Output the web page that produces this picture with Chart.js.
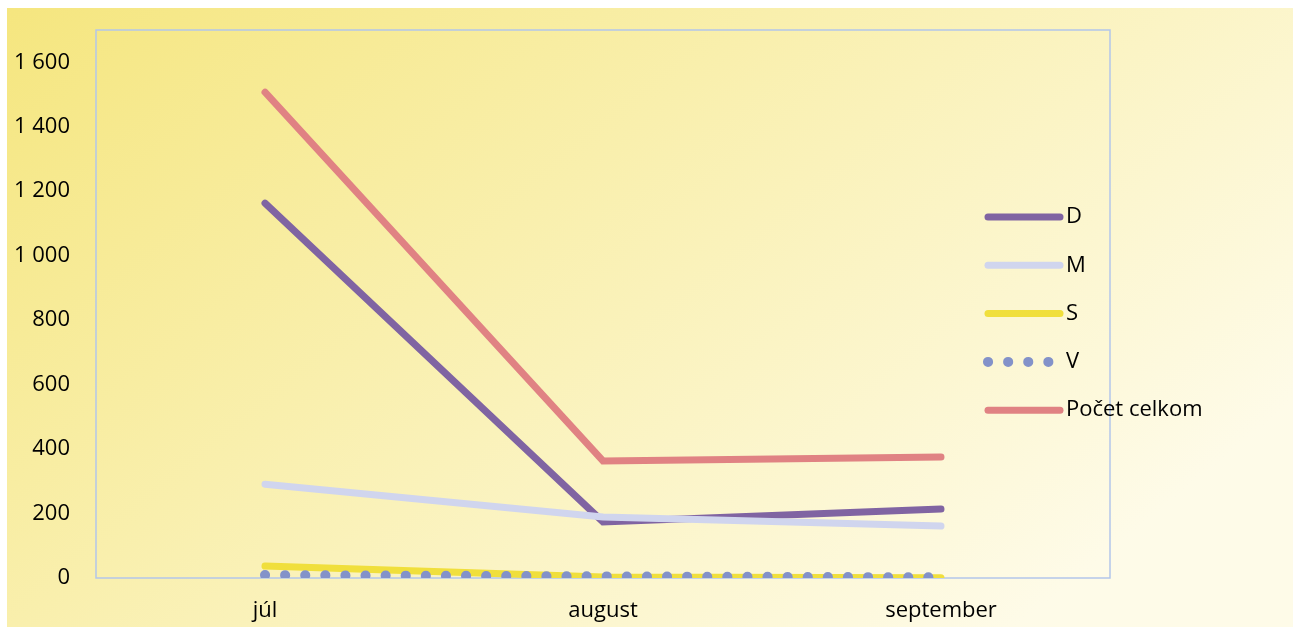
<!DOCTYPE html>
<html>
<head>
<meta charset="utf-8">
<script src="https://cdn.jsdelivr.net/npm/chart.js@4.4.1/dist/chart.umd.min.js"></script>
<style>
  html, body { margin: 0; padding: 0; background: #fff; }
  #wrap { position: absolute; left: 7px; top: 8px; width: 1286px; height: 619px; }
</style>
</head>
<body>
<div id="wrap"><canvas id="myChart"></canvas></div>
<script>
const months = ['júl', 'august', 'september']
const seriesNames = ['D', 'M', 'S', 'V', 'Počet celkom']
const valD = [1163, 174, 214]
const valM = [291, 189, 161]
const valS = [37, 3, 1]
const valV = [9, 5, 2]
const valTotal = [1507, 363, 375]
const yTicks = [0, 200, 400, 600, 800, 1000, 1200, 1400, 1600]

const colors = ['#8064a2', '#d0d5ee', '#f0df3c', '#8392c9', '#e08283']
const allValues = [valD, valM, valS, valV, valTotal]

// pozadie cez celu plochu
const bgPlugin = {
  id: 'bg',
  beforeDraw(chart) {
    const c = chart.ctx
    const g = c.createLinearGradient(0, 0, chart.width * 0.55, chart.height * 1.4)
    g.addColorStop(0, '#f5e67f')
    g.addColorStop(1, '#fefbe8')
    c.save()
    c.fillStyle = g
    c.fillRect(0, 0, chart.width, chart.height)
    c.restore()
  },
  beforeDatasetsDraw(chart) {
    const a = chart.chartArea
    const c = chart.ctx
    c.save()
    c.strokeStyle = '#b3c6ea'
    c.lineWidth = 1.5
    c.strokeRect(a.left, a.top, a.right - a.left, a.bottom - a.top)
    c.restore()
  }
}

// legenda vpravo, kreslena cez graf
const legendPlugin = {
  id: 'myLegend',
  afterDraw(chart) {
    const c = chart.ctx
    c.save()
    c.font = '22px "Open Sans", sans-serif'
    c.textBaseline = 'middle'
    c.fillStyle = '#000'
    chart.data.datasets.forEach((ds, i) => {
      const y = 209 + i * 48.3
      c.beginPath()
      c.strokeStyle = ds.borderColor
      c.lineWidth = ds.borderWidth
      c.lineCap = 'round'
      c.setLineDash(ds.borderDash || [])
      c.moveTo(981, y)
      c.lineTo(1053, y)
      c.stroke()
      c.setLineDash([])
      c.fillText(ds.label, 1059, y)
    })
    c.restore()
  }
}

const datasets = seriesNames.map((name, i) => ({
  label: name,
  data: allValues[i],
  borderColor: colors[i],
  backgroundColor: colors[i],
  borderWidth: i == 3 ? 10 : 7,
  borderCapStyle: 'round',
  borderJoinStyle: 'miter',
  borderDash: i == 3 ? [0.1, 20] : [],
  pointRadius: 0,
  tension: 0,
  order: 5 - i
}))

Chart.defaults.font.family = '"Open Sans", sans-serif'
Chart.defaults.font.size = 22
Chart.defaults.color = '#000'

new Chart(document.getElementById('myChart'), {
  type: 'line',
  data: { labels: months, datasets: datasets },
  options: {
    responsive: true,
    maintainAspectRatio: false,
    animation: false,
    layout: { padding: { left: 0, right: 183, top: 22, bottom: 0 } },
    plugins: { legend: { display: false }, tooltip: { enabled: false } },
    scales: {
      x: {
        offset: true,
        grid: { display: false, drawTicks: false },
        border: { display: false },
        ticks: { padding: 20, maxRotation: 0 },
        afterFit(scale) { scale.height = 49 }
      },
      y: {
        min: 0,
        max: 1700,
        grid: { display: false, drawTicks: false },
        border: { display: false },
        ticks: {
          padding: 26,
          callback: v => String(v).replace(/\B(?=(\d{3})+(?!\d))/g, ' ')
        },
        afterBuildTicks(scale) { scale.ticks = yTicks.map(v => ({ value: v })) },
        afterFit(scale) {
          scale.width = 89
          scale.paddingTop = 0
          scale.paddingBottom = 0
        }
      }
    }
  },
  plugins: [bgPlugin, legendPlugin]
})
</script>
</body>
</html>
